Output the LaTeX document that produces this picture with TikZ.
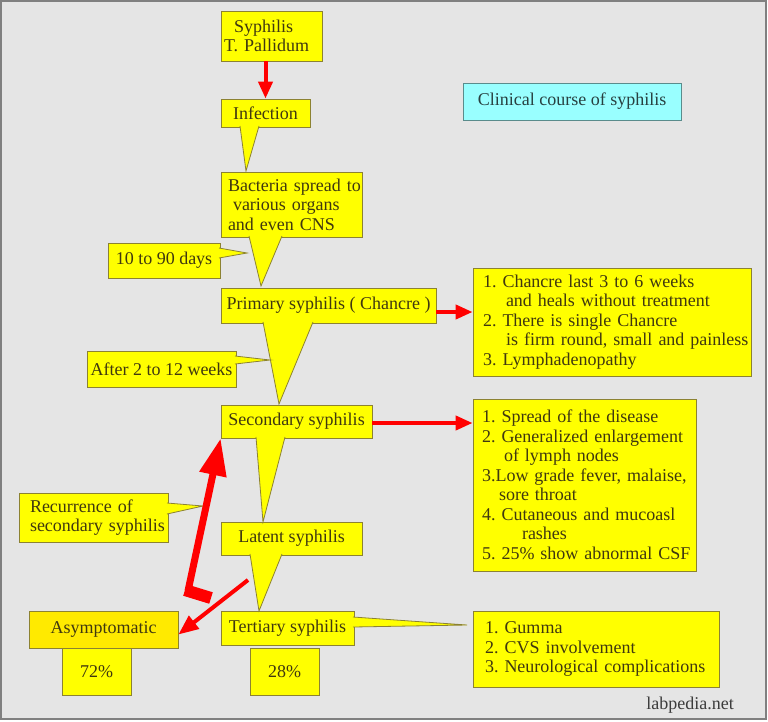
\documentclass[tikz,border=0pt]{standalone}
\usepackage{fontspec}
\setmainfont{Liberation Serif}
\usetikzlibrary{arrows.meta,calc}
\frenchspacing
\hyphenpenalty=10000
\exhyphenpenalty=10000

\definecolor{boxyellow}{RGB}{255,255,0}
\definecolor{asymyellow}{RGB}{255,234,0}
\definecolor{boxline}{RGB}{140,130,50}
\definecolor{txt}{RGB}{64,56,16}
\definecolor{arrred}{RGB}{255,0,0}
\definecolor{bggray}{RGB}{229,229,229}
\definecolor{framegray}{RGB}{128,128,128}
\definecolor{titlecyan}{RGB}{153,255,255}
\definecolor{titleline}{RGB}{90,140,140}
\definecolor{titletxt}{RGB}{40,64,64}

\begin{document}
\begin{tikzpicture}[x=1pt,y=-1pt,
    every node/.style={font=\fontsize{18}{19.5}\selectfont},
    box/.style={draw=boxline,fill=boxyellow,text=txt,line width=0.8pt,inner sep=0pt},
    listbox/.style={box,align=left},
    ptr/.style={draw=boxline,fill=boxyellow,line width=0.8pt},
    redarrow/.style={draw=arrred,line width=4pt,-{Triangle[length=17pt,width=14pt]}}]

  \useasboundingbox (0,0) rectangle (768,721);
  \filldraw[fill=bggray,draw=framegray,line width=2pt] (1,1) rectangle (766,719);

  % main column
  \node[listbox,text width=95pt,inner xsep=3pt,minimum height=50pt] (syph) at (271.5,36) {\hspace*{10pt}Syphilis\\T.~Pallidum};
  \node[box,minimum width=89pt,minimum height=28pt] (inf) at (265.5,113) {Infection};
  \node[listbox,text width=127pt,inner xsep=7pt,minimum height=65pt] (bac) at (291.5,204.5) {Bacteria~spread~to\\\hspace*{5pt}various organs\\and even CNS};
  \node[box,minimum width=112pt,minimum height=35pt] (days) at (164,260.5) {10 to 90 days};
  \node[box,minimum width=215pt,minimum height=35pt] (prim) at (328.5,305.5) {Primary syphilis ( Chancre )};
  \node[box,minimum width=149pt,minimum height=36pt] (weeks) at (161.5,369) {After 2 to 12 weeks};
  \node[box,minimum width=151pt,minimum height=33pt] (second) at (296.5,421.5) {Secondary syphilis};
  \node[listbox,text width=127pt,inner xsep=11pt,minimum height=49pt] (recur) at (93.5,517.5) {Recurrence of\\secondary~syphilis};
  \node[box,minimum width=141pt,minimum height=33pt] (latent) at (291.5,538.5) {Latent syphilis};
  \node[box,fill=asymyellow,minimum width=149pt,minimum height=37pt] (asym) at (103.5,629.5) {Asymptomatic};
  \node[box,minimum width=69pt,minimum height=47pt] (p72) at (96.5,671.5) {72\%};
  \node[box,minimum width=133pt,minimum height=34pt] (tert) at (287.5,628) {Tertiary syphilis};
  \node[box,minimum width=69pt,minimum height=47pt] (p28) at (284.5,671.5) {28\%};

  % right column
  \node[box,draw=titleline,fill=titlecyan,text=titletxt,minimum width=218pt,minimum height=37pt] (title) at (572,101.5) {Clinical course of syphilis};
  \node[listbox,text width=258pt,inner xsep=10pt,minimum height=108pt] (chan) at (612,322) {1.~Chancre~last~3~to~6~weeks\\
    \hspace*{23pt}and~heals~without~treatment\\
    2.~There~is~single~Chancre\\
    \hspace*{23pt}is~firm~round,~small~and~painless\\
    3.~Lymphadenopathy};
  \node[listbox,text width=205pt,inner xsep=9pt,minimum height=172pt] (seclist) at (584.5,485) {1.~Spread~of~the~disease\\
    2.~Generalized~enlargement\\
    \hspace*{22pt}of~lymph~nodes\\
    3.Low~grade~fever,~malaise,\\
    \hspace*{17pt}sore~throat\\
    4.~Cutaneous~and~mucoasl\\
    \hspace*{40pt}rashes\\
    5.~25\%~show~abnormal~CSF};
  \node[listbox,text width=222pt,inner xsep=12pt,minimum height=76pt] (tertlist) at (596,649) {1.~Gumma\\
    2.~CVS~involvement\\
    3.~Neurological~complications};
  \node[text={rgb,255:red,60;green,60;blue,60}] (lab) at (690,705) {labpedia.net};

  % callout pointers
  \filldraw[ptr] (240,126) -- (246,171) -- (259,126);
  \filldraw[ptr] (249,236) -- (261,286) -- (282,236);
  \filldraw[ptr] (219,248) -- (247,253) -- (219,258);
  \filldraw[ptr] (263,322) -- (279,404) -- (313,322);
  \filldraw[ptr] (235,356) -- (270,360) -- (235,364);
  \filldraw[ptr] (256,437) -- (263,522) -- (285,437);
  \filldraw[ptr] (167,503) -- (203,506) -- (167,514);
  \filldraw[ptr] (250,554) -- (259,611) -- (282,554);
  \filldraw[ptr] (353,617) -- (467,625) -- (353,627);

  % red arrows
  \draw[redarrow] (syph.south -| inf) -- (inf);
  \draw[redarrow] ([yshift=-6.5pt]prim.east) -- ([yshift=10pt]chan.west);
  \draw[redarrow] ([yshift=-1.5pt]second.east) -- ([yshift=62pt]seclist.west);

  \coordinate (latout) at (248,580);
  \draw[redarrow,-{Triangle[length=20pt,width=16pt]}] (latout) -- ([yshift=-5pt]asym.east);

  \coordinate (recfoot) at (188,591);
  \draw[arrred,line width=12pt] (185,590) -- (211,598);
  \draw[arrred,line width=7pt,-{Triangle[length=37pt,width=26pt]}] (recfoot) -- (second.south west);
\end{tikzpicture}
\end{document}
